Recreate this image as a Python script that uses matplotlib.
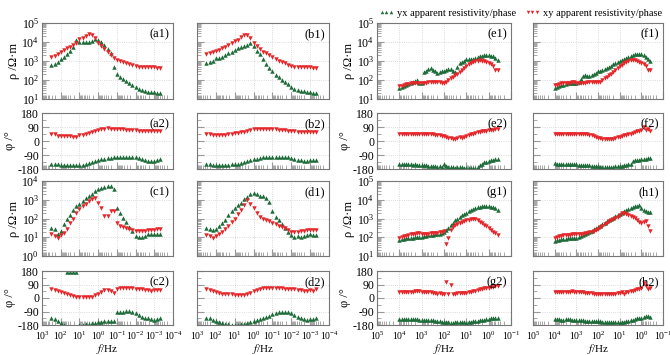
import numpy as np
import matplotlib
matplotlib.use("Agg")
import matplotlib.pyplot as plt
from matplotlib.lines import Line2D
from matplotlib.ticker import LogLocator, LogFormatterMathtext, MultipleLocator, NullFormatter

plt.rcParams['font.family'] = ['Liberation Serif', 'DejaVu Serif']
plt.rcParams['mathtext.fontset'] = 'stix'
plt.rcParams['axes.unicode_minus'] = False

# log10 of frequency (Hz)
lgf_left = [2.5, 2.33, 2.17, 2.0, 1.83, 1.67, 1.5, 1.33, 1.17, 1.0, 0.83, 0.67,
            0.5, 0.33, 0.17, 0.0, -0.17, -0.33, -0.5, -0.67, -0.83, -1.0, -1.17, -1.33,
            -1.5, -1.67, -1.83, -2.0, -2.17, -2.33, -2.5, -2.67, -2.83, -3.0, -3.17, -3.33]
lgf_right = [4.0, 3.9, 3.8, 3.7, 3.6, 3.5, 3.4, 3.3, 3.2, 3.1, 3.0, 2.9, 2.8, 2.7, 2.6,
             2.5, 2.4, 2.3, 2.2, 2.1, 2.0, 1.9, 1.8, 1.7, 1.6, 1.5, 1.4, 1.3, 1.2, 1.1,
             1.0, 0.9, 0.8, 0.7, 0.6, 0.5, 0.4, 0.3, 0.2, 0.1, 0.0, -0.1, -0.2, -0.3, -0.4]

# log10 apparent resistivity (ohm m) and phase (deg)
lgrho_a_xy = [3.2, 3.28, 3.38, 3.48, 3.56, 3.66, 3.76, 3.85, 3.95, 4.17, 4.22, 4.3,
              4.42, 4.38, 4.2, 3.95, 3.78, 3.62, 3.45, 3.3, 3.15, 3.05, 3.0, 2.95,
              2.9, 2.85, 2.78, 2.72, 2.68, 2.66, 2.66, 2.68, 2.7, 2.66, 2.62, 2.64]
lgrho_a_yx = [2.78, 2.85, 2.95, 3.1, 3.2, 3.35, 3.55, 3.75, 4.1, 4.0, 3.98, 3.98,
              4.0, 4.05, 4.15, 4.1, 3.98, 3.82, 3.62, 3.4, 2.7, 2.3, 2.15, 2.05,
              1.95, 1.85, 1.75, 1.65, 1.55, 1.48, 1.42, 1.38, 1.37, 1.35, 1.33, 1.3]
phi_a_xy = [45, 42, 30, 34, 35, 34, 30, 24, 28, 36, 40, 45, 52, 55, 62, 68, 74, 80,
            84, 80, 78, 76, 74, 74, 72, 72, 70, 68, 66, 64, 64, 62, 62, 62, 62, 63]
phi_a_yx = [-145, -148, -150, -152, -155, -156, -157, -156, -155, -154, -152, -150,
            -143, -136, -128, -122, -118, -116, -112, -108, -106, -104, -103, -103,
            -103, -104, -104, -105, -110, -116, -122, -128, -130, -128, -124, -118]

lgrho_b_xy = [3.36, 3.4, 3.45, 3.52, 3.6, 3.68, 3.76, 3.85, 3.95, 4.05, 4.12, 4.25,
              4.38, 4.35, 4.2, 3.95, 3.8, 3.65, 3.5, 3.4, 3.3, 3.2, 3.1, 3.02,
              2.95, 2.88, 2.8, 2.74, 2.7, 2.66, 2.66, 2.67, 2.68, 2.66, 2.62, 2.62]
lgrho_b_yx = [2.92, 2.94, 3.0, 3.15, 3.18, 3.2, 3.3, 3.4, 3.5, 3.6, 3.68, 3.72,
              3.8, 3.85, 3.95, 3.8, 3.55, 3.35, 3.1, 2.85, 2.62, 2.45, 2.28, 2.15,
              2.02, 1.9, 1.77, 1.65, 1.55, 1.46, 1.42, 1.4, 1.38, 1.36, 1.3, 1.3]
phi_b_xy = [45, 42, 38, 36, 36, 38, 40, 42, 46, 50, 52, 56, 60, 66, 70, 74, 76, 78,
            80, 80, 78, 76, 74, 72, 70, 68, 66, 64, 62, 60, 60, 60, 60, 61, 60, 60]
phi_b_yx = [-145, -148, -152, -155, -156, -155, -155, -154, -150, -146, -150, -144,
            -136, -128, -122, -118, -114, -110, -106, -103, -102, -102, -103, -104,
            -104, -104, -106, -108, -114, -120, -124, -126, -126, -124, -125, -124]

lgrho_c_xy = [1.15, 1.05, 0.98, 1.1, 1.25, 1.45, 1.75, 2.0, 2.3, 2.5, 2.65, 2.8,
              2.92, 3.02, 3.1, 2.85, 2.55, 2.15, 2.15, 2.4, 2.38, 1.78, 1.62, 1.57,
              1.5, 1.45, 1.4, 1.36, 1.35, 1.34, 1.36, 1.38, 1.4, 1.38, 1.42, 1.45]
lgrho_c_yx = [1.48, 1.43, 1.15, 1.35, 1.72, 1.95, 2.2, 2.45, 2.65, 2.8, 2.95, 3.08,
              3.18, 3.3, 3.45, 3.55, 3.65, 3.7, 3.72, 3.72, 3.6, 2.55, 2.3, 2.05,
              1.8, 1.55, 1.35, 1.05, 1.0, 1.0, 1.05, 1.15, 1.18, 1.18, 1.17, 1.18]
phi_c_xy = [60, 52, 45, 40, 35, 28, 20, 14, 10, 8, 8, 9, 9, 10, 18, 30, 42, 52,
            55, 50, 32, 58, 64, 68, 70, 66, 64, 62, 60, 58, 56, 52, 46, 52, 56, 56]
phi_c_yx = [-130, -140, -155, -168, -178, 175, 174, 174, 176, -179, -177, -175,
            -172, -168, -165, -162, -158, -155, -153, -156, -155, -92, -90, -90,
            -88, -88, -90, -98, -112, -125, -130, -132, -142, -146, -140, -135]

lgrho_d_xy = [1.13, 1.05, 0.97, 1.05, 1.15, 1.3, 1.45, 1.62, 1.82, 2.0, 2.22, 2.45,
              2.7, 3.0, 2.8, 2.55, 2.3, 2.1, 1.95, 1.9, 1.85, 1.78, 1.7, 1.62,
              1.55, 1.5, 1.38, 1.3, 1.3, 1.3, 1.33, 1.35, 1.37, 1.4, 1.4, 1.4]
lgrho_d_yx = [1.48, 1.44, 1.4, 1.45, 1.58, 1.75, 1.9, 2.2, 2.4, 2.55, 2.72, 2.85,
              3.02, 3.15, 3.3, 3.38, 3.32, 3.22, 3.18, 3.12, 2.9, 2.42, 2.1, 1.9,
              1.7, 1.5, 1.3, 1.12, 1.04, 1.08, 1.02, 1.05, 1.12, 1.15, 1.12, 1.12]
phi_d_xy = [60, 55, 45, 40, 35, 30, 28, 26, 24, 22, 22, 22, 22, 24, 32, 45, 55, 60,
            64, 66, 68, 68, 68, 66, 64, 62, 60, 60, 58, 56, 54, 50, 48, 52, 50, 58]
phi_d_yx = [-130, -136, -144, -150, -158, -165, -172, -176, -178, -179, -178, -176,
            -172, -165, -158, -150, -145, -140, -135, -128, -118, -106, -98, -94,
            -92, -92, -95, -102, -112, -125, -132, -140, -146, -142, -138, -135]

lgrho_e_xy = [1.66, 1.7, 1.75, 1.78, 1.8, 1.82, 1.84, 1.85, 1.85, 1.86, 1.86, 1.86,
              1.86, 1.87, 1.88, 1.88, 1.89, 1.9, 1.88, 1.86, 1.85, 1.9, 2.0, 2.1,
              2.18, 2.25, 2.33, 2.42, 2.52, 2.62, 2.72, 2.82, 2.9, 2.96, 3.0, 3.02,
              3.03, 3.02, 2.98, 2.94, 2.88, 2.82, 2.72, 2.55, 2.52]
lgrho_e_yx = [1.58, 1.65, 1.7, 1.75, 1.8, 1.85, 1.88, 1.93, 1.98, 1.85, 1.82, 2.4,
              2.5, 2.58, 2.62, 2.55, 2.45, 2.38, 2.4, 2.45, 2.5, 2.55, 2.6, 2.58,
              2.45, 2.4, 2.7, 2.88, 2.95, 3.02, 3.08, 3.1, 3.08, 3.12, 3.15, 3.2,
              3.25, 3.28, 3.3, 3.3, 3.3, 3.28, 3.24, 3.15, 3.05]
phi_e_xy = [42, 42, 42, 43, 44, 44, 45, 45, 44, 44, 44, 43, 43, 42, 42, 42, 40, 38,
            36, 34, 30, 26, 22, 18, 14, 12, 18, 24, 20, 28, 34, 40, 44, 48, 52, 55,
            58, 62, 64, 66, 68, 70, 72, 74, 76]
phi_e_yx = [-145, -147, -148, -148, -150, -150, -152, -150, -152, -152, -154, -154,
            -156, -158, -160, -162, -162, -164, -162, -165, -150, -158, -165, -168,
            -170, -172, -170, -168, -170, -172, -174, -176, -176, -175, -172, -165,
            -155, -145, -138, -132, -128, -124, -120, -118, -116]

lgrho_f_xy = [1.74, 1.76, 1.8, 1.83, 1.85, 1.86, 1.86, 1.86, 1.87, 1.87, 1.86, 1.86,
              1.86, 1.86, 1.86, 1.87, 1.87, 1.87, 1.88, 1.88, 1.87, 1.92, 2.02, 2.1,
              2.18, 2.25, 2.32, 2.42, 2.52, 2.62, 2.72, 2.8, 2.88, 2.95, 3.0, 3.03,
              3.04, 3.03, 3.0, 2.95, 2.9, 2.82, 2.72, 2.55, 2.52]
lgrho_f_yx = [1.58, 1.62, 1.68, 1.72, 1.76, 1.8, 1.84, 1.86, 1.86, 1.84, 1.85, 1.88,
              2.05, 2.2, 2.25, 2.22, 2.22, 2.25, 2.3, 2.38, 2.45, 2.5, 2.55, 2.6,
              2.65, 2.7, 2.76, 2.82, 2.88, 2.94, 3.0, 3.05, 3.1, 3.16, 3.2, 3.25,
              3.3, 3.35, 3.38, 3.38, 3.35, 3.3, 3.22, 3.12, 3.0]
phi_f_xy = [42, 43, 43, 44, 44, 45, 45, 45, 45, 45, 45, 44, 44, 44, 43, 42, 40, 38,
            34, 28, 22, 18, 14, 12, 12, 12, 14, 16, 20, 24, 28, 32, 36, 40, 44, 48,
            50, 55, 62, 66, 70, 88, 72, 78, 62]
phi_f_yx = [-144, -146, -147, -148, -148, -149, -150, -150, -150, -150, -151, -152,
            -152, -153, -154, -155, -156, -158, -160, -160, -162, -164, -165, -166,
            -166, -166, -165, -164, -163, -162, -160, -158, -156, -154, -150, -148,
            -128, -124, -122, -120, -118, -116, -114, -112, -112]

lgrho_g_xy = [1.98, 2.02, 2.05, 2.08, 2.1, 2.15, 2.18, 2.2, 2.22, 2.22, 2.2, 2.2,
              2.2, 2.2, 2.21, 2.22, 2.23, 2.24, 2.26, 2.3, 2.36, 1.62, 1.95, 2.4,
              2.55, 2.65, 2.72, 2.78, 2.84, 2.88, 2.92, 2.94, 2.96, 2.97, 2.95, 2.9,
              2.84, 2.76, 2.68, 2.58, 2.5, 2.4, 2.3, 2.22, 2.14]
lgrho_g_yx = [1.88, 1.9, 1.92, 1.94, 1.96, 1.97, 1.98, 2.0, 2.01, 2.02, 2.04, 2.06,
              2.08, 2.1, 2.12, 2.14, 2.16, 2.18, 2.2, 2.24, 2.3, 2.38, 2.5, 2.65,
              2.78, 2.9, 3.0, 3.1, 3.18, 3.25, 3.32, 3.4, 3.46, 3.52, 3.56, 3.6,
              3.63, 3.65, 3.66, 3.66, 3.65, 3.64, 3.62, 3.58, 3.45]
phi_g_xy = [38, 40, 40, 40, 42, 42, 42, 44, 48, 46, 42, 40, 40, 38, 38, 36, 34, 30,
            32, 30, 28, 108, 30, 84, 30, 30, 32, 33, 34, 35, 36, 38, 42, 46, 50, 54,
            58, 60, 64, 66, 68, 72, 76, 80, 82]
phi_g_yx = [-142, -143, -143, -142, -141, -140, -141, -142, -143, -144, -145, -146,
            -146, -147, -148, -149, -150, -152, -155, -158, -160, -158, -162, -164,
            -164, -162, -160, -160, -162, -163, -164, -162, -158, -156, -154, -150,
            -148, -146, -144, -140, -138, -136, -134, -132, -134]

lgrho_h_xy = [1.98, 2.02, 2.05, 2.08, 2.1, 2.12, 2.13, 2.14, 2.15, 2.16, 2.16, 2.17,
              2.18, 2.2, 2.22, 2.24, 2.26, 2.28, 2.32, 2.38, 2.45, 2.55, 2.62, 2.7,
              2.78, 2.85, 2.92, 2.98, 3.03, 3.1, 3.2, 3.32, 3.3, 3.24, 3.2, 3.16,
              3.1, 3.02, 2.9, 2.8, 2.78, 2.8, 2.86, 2.62, 2.36]
lgrho_h_yx = [1.8, 1.84, 1.87, 1.9, 1.92, 1.93, 1.94, 1.95, 1.96, 1.96, 1.98, 2.02,
              2.08, 2.13, 2.18, 2.22, 2.28, 2.35, 2.42, 2.48, 2.55, 2.62, 2.7, 2.78,
              2.85, 2.92, 2.98, 3.05, 3.12, 3.2, 3.26, 3.32, 3.38, 3.45, 3.52, 3.58,
              3.62, 3.65, 3.68, 3.7, 3.55, 3.45, 3.38, 3.36, 3.34]
phi_h_xy = [38, 40, 40, 41, 42, 42, 42, 43, 44, 42, 42, 41, 40, 38, 36, 35, 34, 32,
            30, 30, 28, 28, 28, 27, 26, 26, 28, 30, 30, 32, 36, 40, 30, 38, 42, 44,
            48, 52, 58, 62, 70, 100, 80, 60, 68]
phi_h_yx = [-142, -143, -143, -144, -144, -143, -142, -143, -144, -146, -147, -148,
            -148, -149, -150, -152, -152, -153, -154, -155, -156, -156, -157, -158,
            -158, -159, -160, -160, -162, -163, -164, -160, -158, -152, -150, -148,
            -145, -140, -135, -132, -130, -125, -122, -120, -128]

panel_names = ['a', 'b', 'c', 'd', 'e', 'f', 'g', 'h']

green = '#1d6b38'
red = '#e52528'
W, H = 670, 355

fig = plt.figure(figsize=(W / 100, H / 100), dpi=100)


def add_ax(x0, x1, y0, y1):
    return fig.add_axes([x0 / W, 1 - y1 / H, (x1 - x0) / W, (y1 - y0) / H])


def style(ax, left_labels, bottom_labels):
    for s in ax.spines.values():
        s.set_color('#777777')
        s.set_linewidth(0.8)
    ax.tick_params(which='both', direction='in', color='#999999',
                   top=False, right=False, pad=2)
    ax.tick_params(axis='y', labelsize=8.5)
    ax.tick_params(axis='x', labelsize=7, pad=3)
    ax.tick_params(which='major', length=5)
    ax.tick_params(which='minor', length=3)
    ax.grid(True, which='major', ls=':', color='#cfcfcf', lw=0.6)
    if not left_labels:
        ax.tick_params(labelleft=False)
    if not bottom_labels:
        ax.tick_params(labelbottom=False)


cols_x = [(42, 173), (197, 329), (377, 511), (533, 663)]
rows_y = [(23, 99), (113, 169), (181, 256), (271, 325)]

for i, name in enumerate(panel_names):
    g = globals()
    right = name in 'efgh'
    lgf = lgf_right if right else lgf_left
    freq = 10 ** np.array(lgf)
    col = (2 if right else 0) + (i % 2)
    blk = 0 if name in 'abef' else 2
    x0, x1 = cols_x[col]
    rho_xy = 10 ** np.array(g['lgrho_%s_xy' % name])
    rho_yx = 10 ** np.array(g['lgrho_%s_yx' % name])
    phi_xy = np.array(g['phi_%s_xy' % name])
    phi_yx = np.array(g['phi_%s_yx' % name])

    # resistivity
    ax = add_ax(x0, x1, *rows_y[blk])
    ax.set_xscale('log')
    ax.set_yscale('log')
    ax.plot(freq, rho_yx, ls='none', marker='^', ms=3.2, mew=0, color=green)
    ax.plot(freq, rho_xy, ls='none', marker='v', ms=3.2, mew=0, color=red)
    if right:
        ax.set_xlim(1e5, 1e-1)
    else:
        ax.set_xlim(1e3, 1e-4)
    if name in 'cd':
        ax.set_ylim(1e0, 1e4)
    else:
        ax.set_ylim(1e1, 1e5)
    ax.yaxis.set_major_locator(LogLocator(base=10, numticks=10))
    ax.yaxis.set_minor_locator(LogLocator(base=10, subs=np.arange(2, 10), numticks=10))
    ax.yaxis.set_major_formatter(LogFormatterMathtext())
    ax.yaxis.set_minor_formatter(NullFormatter())
    ax.xaxis.set_major_locator(LogLocator(base=10, numticks=12))
    ax.xaxis.set_minor_locator(LogLocator(base=10, subs=np.arange(2, 10), numticks=12))
    ax.xaxis.set_minor_formatter(NullFormatter())
    style(ax, col in (0, 2), False)
    ax.text(0.97, 0.93, '(%s1)' % name, transform=ax.transAxes, ha='right', va='top',
            fontsize=9)
    if col in (0, 2):
        ax.set_ylabel('ρ /Ω·m', fontsize=9, labelpad=1)

    # phase
    ax = add_ax(x0, x1, *rows_y[blk + 1])
    ax.set_xscale('log')
    ax.plot(freq, phi_yx, ls='none', marker='^', ms=3.2, mew=0, color=green)
    ax.plot(freq, phi_xy, ls='none', marker='v', ms=3.2, mew=0, color=red)
    if right:
        ax.set_xlim(1e5, 1e-1)
    else:
        ax.set_xlim(1e3, 1e-4)
    ax.set_ylim(-180, 180)
    ax.yaxis.set_major_locator(MultipleLocator(90))
    ax.yaxis.set_minor_locator(MultipleLocator(45))
    ax.xaxis.set_major_locator(LogLocator(base=10, numticks=12))
    ax.xaxis.set_minor_locator(LogLocator(base=10, subs=np.arange(2, 10), numticks=12))
    ax.xaxis.set_major_formatter(LogFormatterMathtext())
    ax.xaxis.set_minor_formatter(NullFormatter())
    style(ax, col in (0, 2), blk == 2)
    ax.text(0.97, 0.9, '(%s2)' % name, transform=ax.transAxes, ha='right', va='top',
            fontsize=9)
    if col in (0, 2):
        ax.set_ylabel('φ /°', fontsize=9, labelpad=1)
    if blk == 2:
        ax.set_xlabel('$f$/Hz', fontsize=8, labelpad=0.5)

handles = [Line2D([], [], ls='none', marker='^', ms=2.5, mew=0, color=green),
           Line2D([], [], ls='none', marker='v', ms=2.5, mew=0, color=red)]
fig.legend(handles, ['yx apparent resistivity/phase', 'xy apparent resistivity/phase'],
           loc='center right', bbox_to_anchor=(0.995, 0.962), ncol=2, frameon=False,
           numpoints=3, handlelength=1.5, handletextpad=0.3, columnspacing=0.8,
           fontsize=7.5, borderaxespad=0)

fig.savefig('out.png', dpi=100)
